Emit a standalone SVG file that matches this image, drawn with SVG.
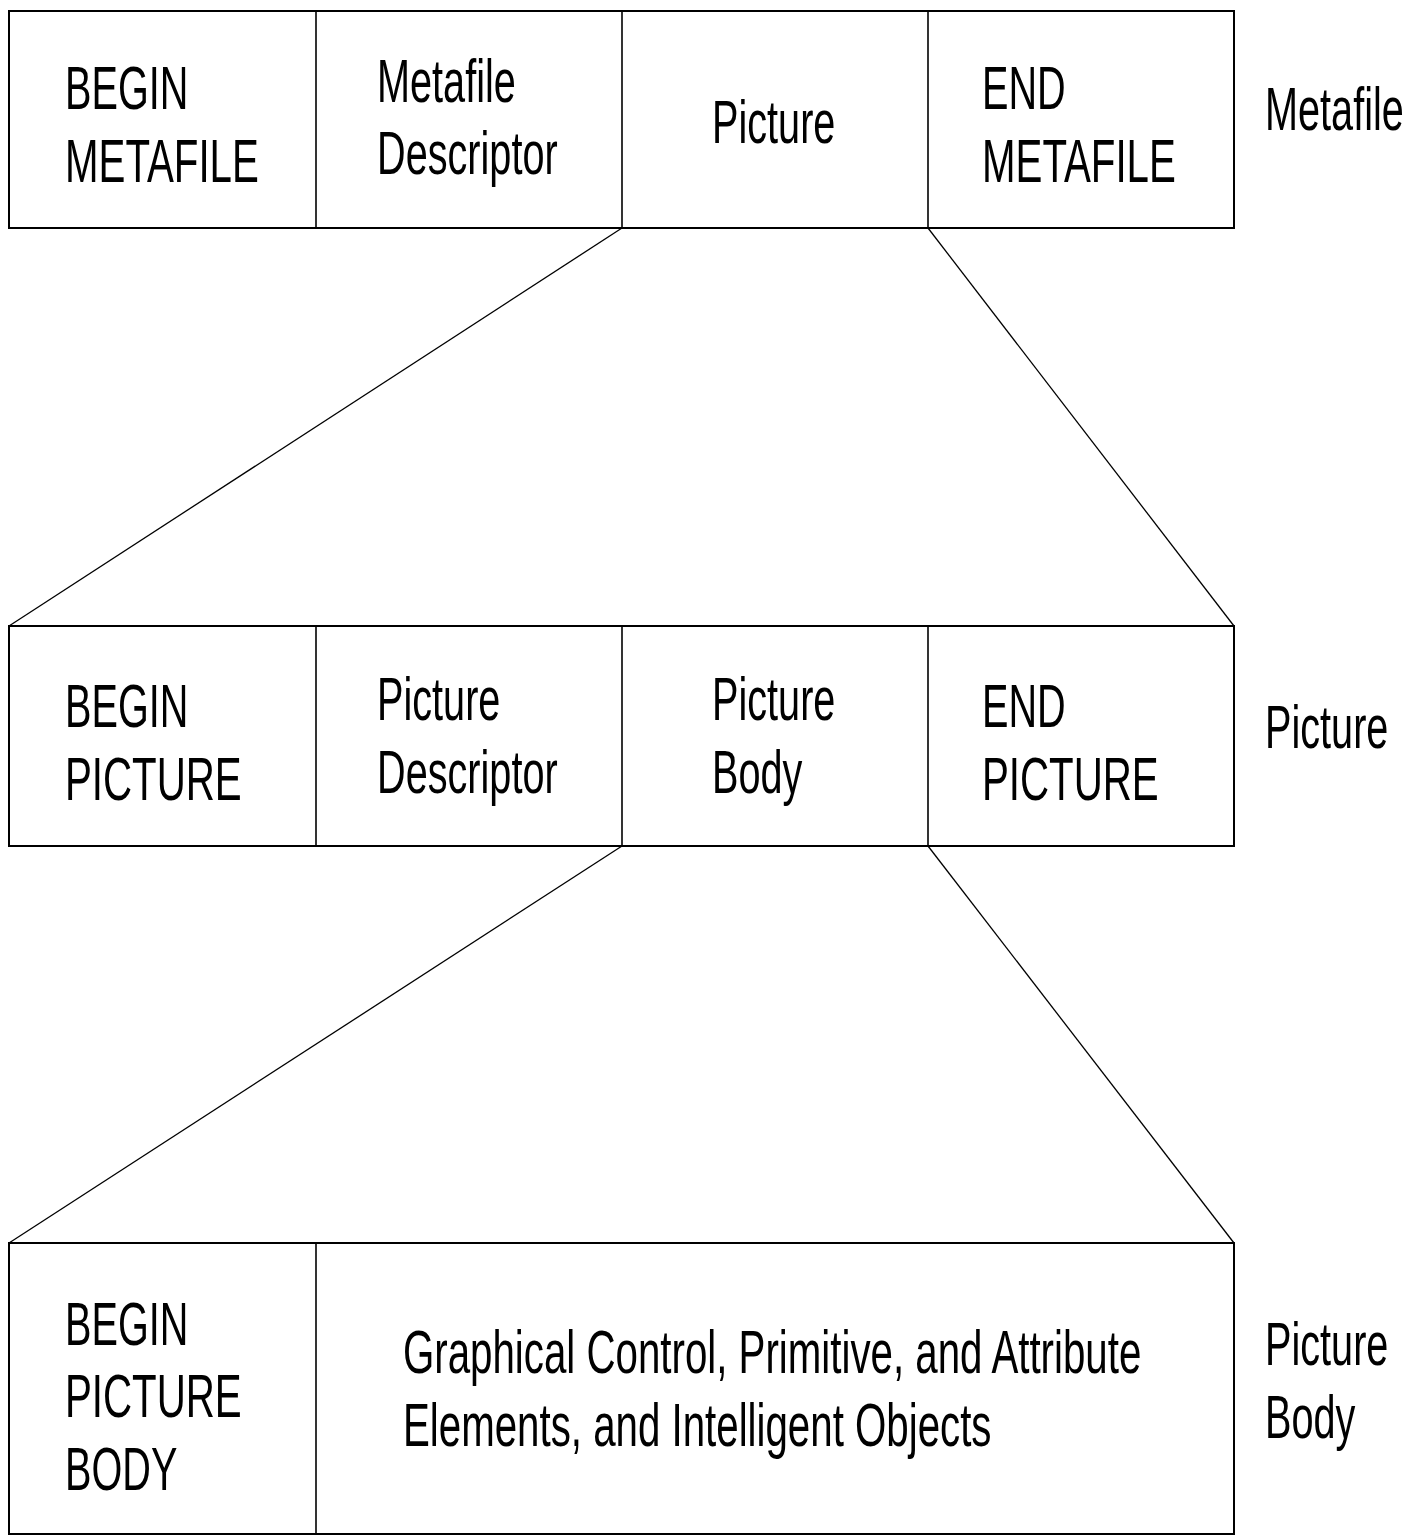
<svg xmlns="http://www.w3.org/2000/svg" width="1421" height="1535" viewBox="0 0 1421 1535">
<style>
.box{fill:#fff;stroke:#000;stroke-width:2}
.div{stroke:#000;stroke-width:1.6}
.con{stroke:#000;stroke-width:1.3;fill:none}
text{font-family:"Liberation Sans",Arial,sans-serif;font-size:61px;fill:#000}
</style>
<rect width="1421" height="1535" fill="#fff"/>
<g id="connectors">
<line class="con" x1="622" y1="228" x2="9" y2="626"/>
<line class="con" x1="928" y1="228" x2="1234" y2="626"/>
<line class="con" x1="622" y1="846" x2="9" y2="1243"/>
<line class="con" x1="928" y1="846" x2="1234" y2="1243"/>
</g>
<g id="metafile">
<rect class="box" x="9" y="11" width="1225" height="217"/>
<line class="div" x1="316" y1="11" x2="316" y2="228"/>
<line class="div" x1="622" y1="11" x2="622" y2="228"/>
<line class="div" x1="928" y1="11" x2="928" y2="228"/>
</g>
<g id="begin-metafile">
<text transform="translate(65,109) scale(0.65,1)">BEGIN</text>
<text transform="translate(65,182) scale(0.66,1)">METAFILE</text>
</g>
<g id="metafile-descriptor">
<text transform="translate(377,102) scale(0.65,1)">Metafile</text>
<text transform="translate(377,174) scale(0.65,1)">Descriptor</text>
</g>
<g id="picture-element">
<text transform="translate(712,143) scale(0.65,1)">Picture</text>
</g>
<g id="end-metafile">
<text transform="translate(982,109) scale(0.65,1)">END</text>
<text transform="translate(982,182) scale(0.66,1)">METAFILE</text>
</g>
<g id="label-metafile">
<text transform="translate(1265,130) scale(0.65,1)">Metafile</text>
</g>
<g id="picture">
<rect class="box" x="9" y="626" width="1225" height="220"/>
<line class="div" x1="316" y1="626" x2="316" y2="846"/>
<line class="div" x1="622" y1="626" x2="622" y2="846"/>
<line class="div" x1="928" y1="626" x2="928" y2="846"/>
</g>
<g id="begin-picture">
<text transform="translate(65,727) scale(0.65,1)">BEGIN</text>
<text transform="translate(65,800) scale(0.66,1)">PICTURE</text>
</g>
<g id="picture-descriptor">
<text transform="translate(377,720) scale(0.65,1)">Picture</text>
<text transform="translate(377,793) scale(0.65,1)">Descriptor</text>
</g>
<g id="picture-body-element">
<text transform="translate(712,720) scale(0.65,1)">Picture</text>
<text transform="translate(712,793) scale(0.65,1)">Body</text>
</g>
<g id="end-picture">
<text transform="translate(982,727) scale(0.65,1)">END</text>
<text transform="translate(982,800) scale(0.66,1)">PICTURE</text>
</g>
<g id="label-picture">
<text transform="translate(1265,748) scale(0.65,1)">Picture</text>
</g>
<g id="picture-body">
<rect class="box" x="9" y="1243" width="1225" height="291"/>
<line class="div" x1="316" y1="1243" x2="316" y2="1534"/>
</g>
<g id="begin-picture-body">
<text transform="translate(65,1345) scale(0.65,1)">BEGIN</text>
<text transform="translate(65,1417) scale(0.66,1)">PICTURE</text>
<text transform="translate(65,1490) scale(0.65,1)">BODY</text>
</g>
<g id="elements">
<text transform="translate(403,1373) scale(0.66,1)">Graphical Control, Primitive, and Attribute</text>
<text transform="translate(403,1446) scale(0.66,1)">Elements, and Intelligent Objects</text>
</g>
<g id="label-picture-body">
<text transform="translate(1265,1365) scale(0.65,1)">Picture</text>
<text transform="translate(1265,1438) scale(0.65,1)">Body</text>
</g>
</svg>
